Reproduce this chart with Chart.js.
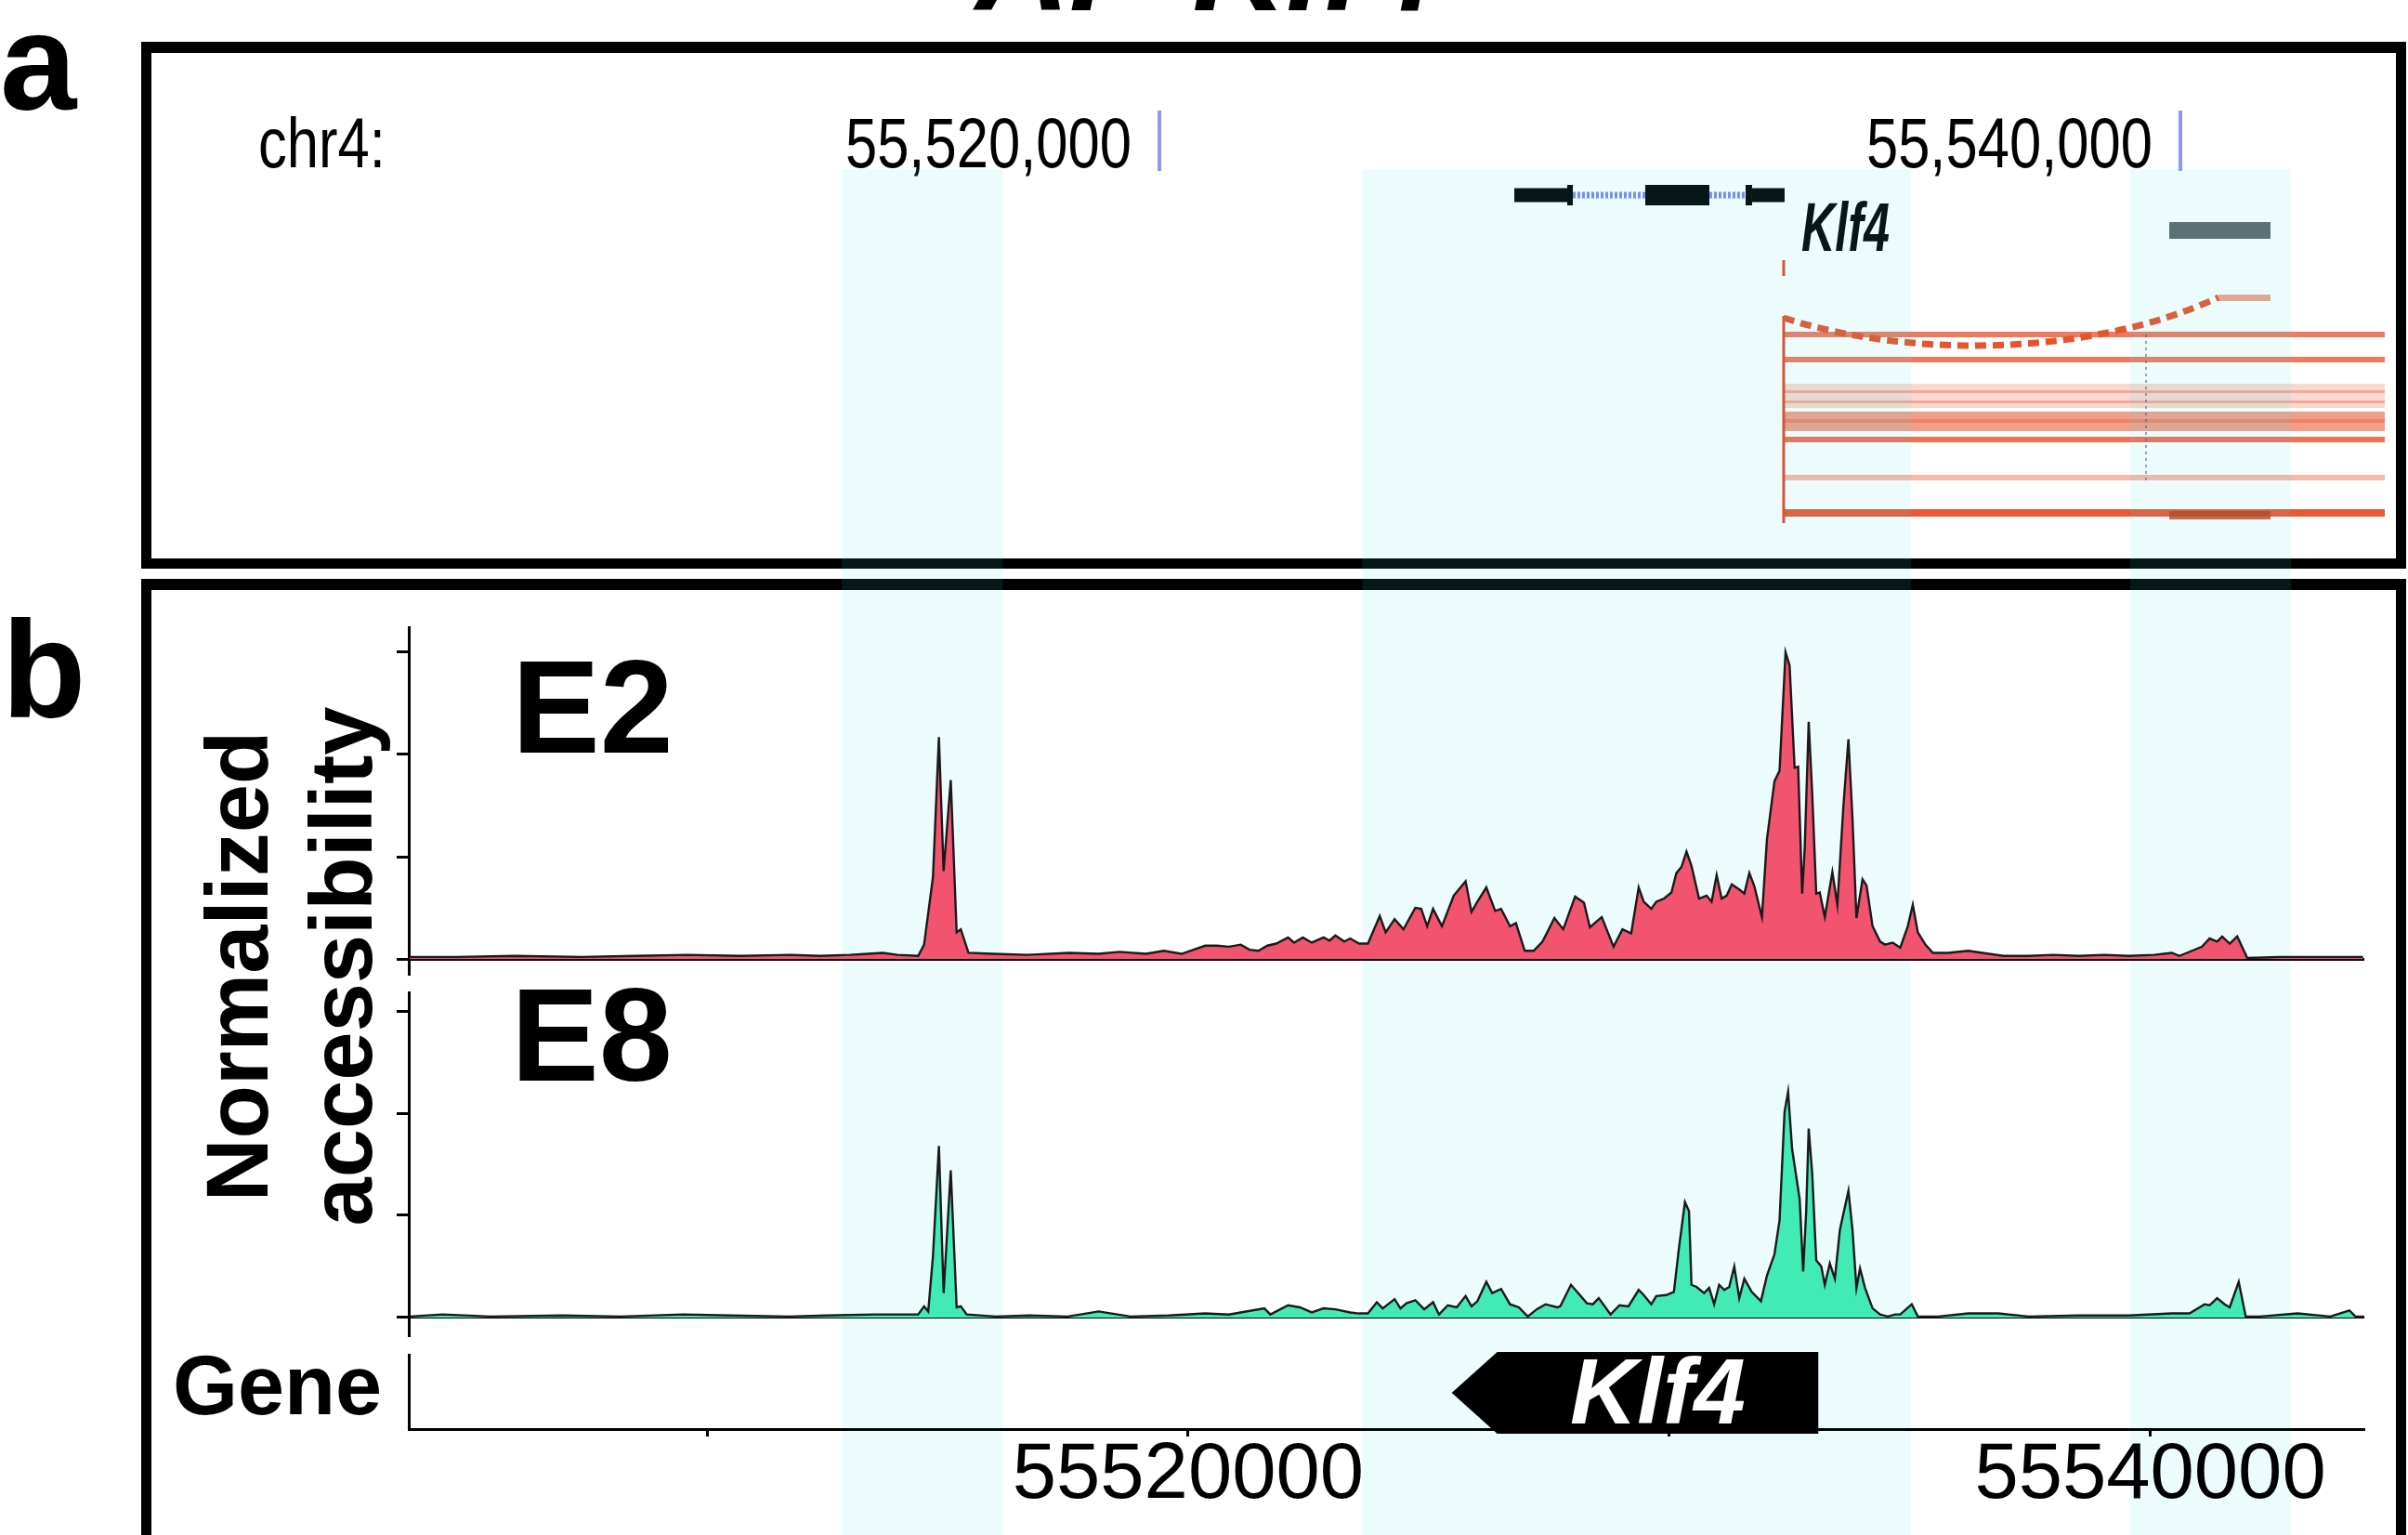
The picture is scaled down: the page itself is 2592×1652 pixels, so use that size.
<!DOCTYPE html>
<html>
<head>
<meta charset="utf-8">
<script src="https://cdn.jsdelivr.net/npm/chart.js@4.4.1/dist/chart.umd.min.js"></script>
<style>
  html, body { margin: 0; padding: 0; background: #fff; width: 2592px; height: 1652px; overflow: hidden; }
  canvas { position: absolute; left: 0; top: 0; }
</style>
</head>
<body>
<canvas id="panelA" width="2592" height="1652"></canvas>
<canvas id="trackE2" width="2592" height="1652"></canvas>
<canvas id="trackE8" width="2592" height="1652"></canvas>
<canvas id="trackGene" width="2592" height="1652"></canvas>
<script>
// ---- accessibility tracks (panel b), positions are bp relative to chr4:55,520,000 ----
const ORIGIN = 55520000;
const X_MIN = 55503800;
const X_MAX = 55544450;
const AXIS_TICKS = [55510000, 55520000, 55530000, 55540000];
const LABELED_TICKS = [55520000, 55540000];
const Y_TICKS = [0, 10, 20, 30];
const TRACK_NAMES = ['E2', 'E8'];

const E2_SIGNAL = [
  [-16180,0.2],[-15200,0.2],[-14000,0.3],[-12600,0.2],[-11500,0.3],[-10400,0.4],[-9300,0.3],[-8256,0.4],
  [-7641,0.3],[-7026,0.4],[-6657,0.5],[-6349,0.6],[-6042,0.4],[-5611,0.3],[-5488,1.4],[-5304,8.0],
  [-5180,21.7],[-5082,8.6],[-4934,17.5],[-4811,2.6],[-4725,2.9],[-4565,0.6],[-4073,0.5],[-3335,0.4],
  [-2474,0.6],[-1859,0.5],[-1428,0.7],[-875,0.5],[-506,0.8],[-137,0.5],[355,1.3],[601,1.3],
  [847,1.2],[1094,1.4],[1278,0.9],[1463,0.8],[1647,1.3],[1832,1.5],[2078,2.1],[2201,1.6],
  [2386,2.1],[2570,1.6],[2816,2.1],[2939,1.8],[3062,2.3],[3247,1.7],[3370,2.0],[3554,1.5],
  [3738,1.5],[3984,4.2],[4107,2.6],[4292,3.9],[4477,2.9],[4723,5.0],[4846,4.9],[4969,3.2],
  [5092,4.9],[5276,3.2],[5522,6.2],[5768,7.6],[5891,4.6],[6014,5.6],[6199,7.0],[6383,4.7],
  [6506,4.9],[6691,3.2],[6814,3.5],[6998,0.8],[7183,0.8],[7368,1.7],[7614,4.0],[7798,2.9],
  [8045,6.1],[8229,5.5],[8352,3.1],[8598,4.1],[8844,1.2],[9029,2.9],[9210,2.5],[9366,7.0],
  [9471,5.6],[9628,4.9],[9732,5.6],[9889,5.9],[10046,6.5],[10150,8.4],[10255,9.0],[10360,10.5],
  [10464,9.1],[10621,5.9],[10778,6.2],[10882,5.6],[10987,8.2],[11091,5.9],[11196,6.2],[11301,7.3],
  [11457,6.8],[11562,6.4],[11666,8.4],[11771,7.1],[11928,4.1],[12032,11.7],[12189,17.4],[12294,18.4],
  [12419,30.0],[12503,28.7],[12607,18.7],[12681,18.8],[12764,6.4],[12817,10.8],[12900,23.2],[12973,16.2],
  [13057,6.4],[13130,6.5],[13235,4.1],[13392,8.5],[13496,5.3],[13622,15.0],[13726,21.5],[13810,13.8],
  [13893,4.0],[14019,7.8],[14102,7.2],[14228,3.2],[14385,1.7],[14489,1.4],[14646,1.6],[14803,1.1],
  [14960,3.2],[15064,5.3],[15169,2.6],[15326,1.4],[15482,0.6],[15796,0.6],[16214,0.8],[16946,0.3],
  [17469,0.3],[17992,0.4],[18515,0.3],[19037,0.4],[19560,0.3],[20083,0.4],[20449,0.6],[20606,0.3],
  [20867,0.8],[21076,1.2],[21233,2.0],[21390,1.7],[21495,2.2],[21651,1.5],[21808,2.2],[22017,0.1],
  [22697,0.2],[23742,0.2],[24422,0.2]
];

const E8_SIGNAL = [
  [-16180,0.1],[-15500,0.3],[-14500,0.1],[-13000,0.2],[-11800,0.1],[-10500,0.3],[-9500,0.2],[-8300,0.1],
  [-7500,0.2],[-6500,0.3],[-5611,0.3],[-5488,1.1],[-5402,0.6],[-5304,6.0],[-5180,16.8],[-5082,2.4],
  [-4934,14.4],[-4811,1.0],[-4725,1.1],[-4602,0.3],[-4000,0.1],[-3300,0.2],[-2500,0.1],[-1859,0.6],
  [-1200,0.1],[-400,0.2],[355,0.4],[847,0.3],[1094,0.5],[1586,0.9],[1709,0.3],[2078,1.2],
  [2324,1.0],[2570,0.5],[2816,0.9],[3062,0.8],[3370,0.5],[3554,0.4],[3738,0.4],[3922,1.5],
  [4045,0.9],[4292,1.8],[4415,0.9],[4538,1.4],[4723,1.7],[4907,0.8],[5092,1.5],[5215,0.3],
  [5399,1.2],[5584,1.0],[5768,2.1],[5891,1.1],[6014,1.6],[6199,3.5],[6321,2.4],[6506,2.8],
  [6691,1.3],[6875,1.0],[7060,0.1],[7245,0.8],[7429,1.3],[7675,1.0],[7737,1.1],[7958,3.2],
  [8106,2.4],[8290,1.4],[8413,1.3],[8536,1.9],[8782,0.3],[8967,1.2],[9152,1.1],[9366,2.7],
  [9471,2.2],[9628,1.3],[9732,2.1],[9941,2.2],[10098,2.5],[10203,6.8],[10328,11.3],[10412,10.4],
  [10464,3.2],[10569,3.0],[10726,2.4],[10830,2.9],[10935,1.3],[11039,3.2],[11144,2.7],[11248,3.0],
  [11353,5.0],[11457,1.9],[11562,3.8],[11719,2.5],[11907,1.6],[12032,4.1],[12189,6.2],[12294,9.5],
  [12398,20.1],[12472,22.1],[12555,16.5],[12712,11.6],[12785,4.5],[12848,10.4],[12900,18.5],[12973,14.1],
  [13057,5.6],[13162,5.0],[13235,3.2],[13339,5.3],[13444,3.8],[13549,8.6],[13726,12.4],[13810,8.6],
  [13893,2.9],[13967,4.8],[14071,2.9],[14228,0.9],[14385,0.3],[14542,0.1],[14698,0.3],[14803,0.3],
  [15043,1.3],[15169,0.1],[15587,0.1],[16214,0.4],[16842,0.4],[17469,0.1],[18515,0.2],[19560,0.2],
  [20449,0.4],[20815,0.4],[21128,1.3],[21233,1.2],[21390,1.9],[21547,1.3],[21651,1.0],[21839,3.5],
  [21985,0.1],[22278,0.1],[23062,0.4],[23742,0.1],[24139,0.7],[24265,0.1],[24422,0.1]
];

const GENE_NAME = 'Klf4';
const GENE_SPAN = [55525480, 55533100];
const HIGHLIGHTS = [[55512800, 55516150], [55523620, 55535030], [55539580, 55542930]];

// ---- genome browser view (panel a) ----
const BROWSER_MIN = 55500255;
const BROWSER_MAX = 55544222;
const BROWSER_TICKS = [55520000, 55540000];
const KLF4_EXONS = [
  [55526952, 55527989, 'utr'], [55527989, 55528098, 'cds'], [55529518, 55530773, 'cds'],
  [55531483, 55531610, 'cds'], [55531610, 55532247, 'utr']
];
const KLF4_INTRONS = [[55528098, 55529518], [55530773, 55531483]];
const CONSERVED_BLOCK = [55539782, 55541765];
const RNA_SPAN = [55532229, 55544003];
const SPLICE_JUNCTION = [55532229, 55540748];
const JUNCTION_EXON = [55540748, 55541765];

const SANS = '"Liberation Sans", Arial, Helvetica, sans-serif';

function drawText(ctx, str, x, y, font, opts = {}) {
  ctx.save();
  ctx.font = font;
  ctx.fillStyle = opts.color || '#000';
  ctx.textAlign = opts.align || 'left';
  ctx.textBaseline = 'alphabetic';
  ctx.translate(x, y);
  if (opts.rotate) ctx.rotate(opts.rotate);
  ctx.scale(opts.sx || 1, 1);
  ctx.fillText(str, 0, 0);
  ctx.restore();
}

// frames, panel letters, axis titles and the browser screenshot tracks
const panelAPlugin = {
  id: 'panelA',
  afterDraw(chart) {
    const ctx = chart.ctx;
    const px = v => chart.scales.x.getPixelForValue(v);

    drawText(ctx, 'AP Klf4', 1050, 11, 'italic bold 140px ' + SANS);
    drawText(ctx, 'a', 0, 118, 'bold 148px ' + SANS);
    drawText(ctx, 'b', 2, 772, 'bold 148px ' + SANS);

    ctx.fillStyle = '#000';
    ctx.fillRect(152, 45, 2438, 12);
    ctx.fillRect(152, 601, 2438, 11);
    ctx.fillRect(152, 45, 11, 567);
    ctx.fillRect(2579, 45, 11, 567);
    ctx.fillRect(152, 623, 2438, 12);
    ctx.fillRect(152, 623, 11, 1029);
    ctx.fillRect(2579, 623, 11, 1029);

    // browser ruler
    drawText(ctx, 'chr4:', 278, 180, '76px ' + SANS, { sx: 0.81 });
    BROWSER_TICKS.forEach(v => {
      const x = px(v);
      ctx.fillStyle = '#8f97f2';
      ctx.fillRect(x - 2, 119, 4, 65);
      drawText(ctx, v.toLocaleString('en-US'), x - 30, 180, '76px ' + SANS, { align: 'right', sx: 0.81 });
    });

    // Klf4 gene model
    const gy = 210;
    KLF4_INTRONS.forEach(([s, e]) => {
      ctx.save();
      ctx.strokeStyle = '#7d86f0';
      ctx.lineWidth = 7;
      ctx.setLineDash([3, 2]);
      ctx.beginPath();
      ctx.moveTo(px(s), gy);
      ctx.lineTo(px(e), gy);
      ctx.stroke();
      ctx.restore();
    });
    ctx.fillStyle = '#000';
    KLF4_EXONS.forEach(([s, e, kind]) => {
      const h = kind === 'utr' ? 15 : 22;
      ctx.fillRect(px(s), gy - h / 2, Math.max(px(e) - px(s), 6), h);
    });
    drawText(ctx, 'Klf4', 1939, 270, 'italic bold 74px ' + SANS, { sx: 0.68 });

    ctx.fillStyle = '#5e6667';
    ctx.fillRect(px(CONSERVED_BLOCK[0]), 239, px(CONSERVED_BLOCK[1]) - px(CONSERVED_BLOCK[0]), 18);

    // RNA-seq coverage rows
    const xs = px(RNA_SPAN[0]), xe = px(RNA_SPAN[1]);
    const rows = [
      [357, 6, 0.75], [384, 6, 0.75], [413, 26, 0.22], [420, 3, 0.35], [431, 3, 0.35],
      [443, 21, 0.55], [451, 4, 0.35], [470, 6, 0.8], [511, 6, 0.4], [548, 8, 0.95]
    ];
    rows.forEach(([y, h, a]) => {
      ctx.fillStyle = `rgba(232,78,40,${a})`;
      ctx.fillRect(xs, y, xe - xs, h);
    });
    ctx.fillStyle = 'rgba(190,60,20,0.8)';
    ctx.fillRect(px(CONSERVED_BLOCK[0]), 550, px(CONSERVED_BLOCK[1]) - px(CONSERVED_BLOCK[0]), 9);
    ctx.fillStyle = '#e8461e';
    ctx.fillRect(xs - 1.5, 340, 3, 223);
    ctx.fillRect(xs - 1.5, 280, 3, 17);

    ctx.save();
    ctx.strokeStyle = 'rgba(80,80,110,0.55)';
    ctx.lineWidth = 2;
    ctx.setLineDash([3, 4]);
    ctx.beginPath();
    ctx.moveTo(px(55539327), 360);
    ctx.lineTo(px(55539327), 520);
    ctx.stroke();
    ctx.restore();

    // splice junction
    const j0 = px(SPLICE_JUNCTION[0]), j1 = px(SPLICE_JUNCTION[1]);
    ctx.save();
    ctx.strokeStyle = '#e8532b';
    ctx.lineWidth = 7;
    ctx.setLineDash([12, 7]);
    ctx.beginPath();
    ctx.moveTo(j0, 342);
    ctx.bezierCurveTo(j0 + (j1 - j0) * 0.28, 385, j0 + (j1 - j0) * 0.7, 385, j1, 320);
    ctx.stroke();
    ctx.restore();
    ctx.fillStyle = 'rgba(232,83,43,0.55)';
    ctx.fillRect(px(JUNCTION_EXON[0]), 317, px(JUNCTION_EXON[1]) - px(JUNCTION_EXON[0]), 7);

    // panel b axis titles
    drawText(ctx, 'Normalized', 288, 1040, 'bold 94px ' + SANS, { align: 'center', rotate: -Math.PI / 2 });
    drawText(ctx, 'accessibility', 400, 1040, 'bold 94px ' + SANS, { align: 'center', rotate: -Math.PI / 2 });
    drawText(ctx, 'Gene', 186, 1522, 'bold 90px ' + SANS);
  }
};

new Chart(document.getElementById('panelA'), {
  type: 'line',
  data: { datasets: [] },
  options: {
    responsive: false, animation: false, devicePixelRatio: 1,
    layout: { padding: { left: 163, right: 13, top: 57, bottom: 1050 } },
    plugins: { legend: { display: false }, tooltip: { enabled: false } },
    scales: {
      x: { type: 'linear', display: false, min: BROWSER_MIN, max: BROWSER_MAX },
      y: { type: 'linear', display: false, min: 0, max: 1 }
    }
  },
  plugins: [panelAPlugin]
});

function trackOptions(top, bottom, yMin, yMax) {
  return {
    responsive: false, animation: false, devicePixelRatio: 1,
    layout: { padding: { left: 420, right: 47, top: top, bottom: 1652 - bottom } },
    plugins: { legend: { display: false }, tooltip: { enabled: false } },
    scales: {
      x: { type: 'linear', display: false, min: X_MIN, max: X_MAX },
      y: {
        type: 'linear', min: yMin, max: yMax,
        afterFit: s => { s.width = 20; },
        afterBuildTicks: s => { s.ticks = Y_TICKS.map(v => ({ value: v })); },
        ticks: { display: false },
        grid: {
          color: c => (c.tick && c.tick.value === 0 ? '#000' : 'rgba(0,0,0,0)'),
          lineWidth: c => (c.tick && c.tick.value === 0 ? 3 : 1),
          drawTicks: true, tickLength: 13, tickWidth: 3, tickColor: '#000'
        },
        border: { display: true, color: '#000', width: 3 }
      }
    }
  };
}

function trackLabel(name, x, y) {
  return { id: 'label' + name, afterDraw(c) { drawText(c.ctx, name, x, y, 'bold 142px ' + SANS); } };
}

// highlighted regions run down the whole figure, under the tracks but over the frames
const highlightPlugin = {
  id: 'highlights',
  beforeDraw(chart) {
    const ctx = chart.ctx;
    const xs = chart.scales.x;
    ctx.save();
    ctx.fillStyle = 'rgba(65,225,235,0.1)';
    HIGHLIGHTS.forEach(([s, e]) => {
      const a = xs.getPixelForValue(s), b = xs.getPixelForValue(e);
      ctx.fillRect(a, 182, b - a, 1652 - 182);
    });
    ctx.restore();
  }
};

function signalDataset(signal, fillColor) {
  return {
    data: signal.map(([p, v]) => ({ x: ORIGIN + p, y: v })),
    borderColor: '#1a1a1a', borderWidth: 2.4, backgroundColor: fillColor,
    fill: 'origin', pointRadius: 0, tension: 0
  };
}

new Chart(document.getElementById('trackE2'), {
  type: 'line',
  data: { datasets: [signalDataset(E2_SIGNAL, '#F2536F')] },
  options: trackOptions(675, 1048, -1.45, 32.45),
  plugins: [highlightPlugin, trackLabel(TRACK_NAMES[0], 551, 810)]
});

new Chart(document.getElementById('trackE8'), {
  type: 'line',
  data: { datasets: [signalDataset(E8_SIGNAL, '#42EBB4')] },
  options: trackOptions(1068, 1437, -1.73, 31.82),
  plugins: [trackLabel(TRACK_NAMES[1], 550, 1163)]
});

// gene track with the genomic axis
const genePlugin = {
  id: 'geneTrack',
  afterDraw(chart) {
    const ctx = chart.ctx;
    const xs = chart.scales.x;
    const tip = xs.getPixelForValue(GENE_SPAN[0]);
    const end = xs.getPixelForValue(GENE_SPAN[1]);
    const body = tip + 49, top = 1455, bottom = 1543, mid = (top + bottom) / 2;
    ctx.fillStyle = '#000';
    ctx.beginPath();
    ctx.moveTo(tip, mid);
    ctx.lineTo(body, top);
    ctx.lineTo(end, top);
    ctx.lineTo(end, bottom);
    ctx.lineTo(body, bottom);
    ctx.closePath();
    ctx.fill();
    drawText(ctx, GENE_NAME, (body + end) / 2, 1532, 'italic bold 100px ' + SANS, { align: 'center', color: '#fff' });
  }
};

new Chart(document.getElementById('trackGene'), {
  type: 'line',
  data: { datasets: [] },
  options: {
    responsive: false, animation: false, devicePixelRatio: 1,
    layout: { padding: { left: 420, right: 47, top: 1458, bottom: 0 } },
    plugins: { legend: { display: false }, tooltip: { enabled: false } },
    scales: {
      x: {
        type: 'linear', min: X_MIN, max: X_MAX,
        afterFit: s => { s.height = 114; },
        afterBuildTicks: s => { s.ticks = AXIS_TICKS.map(v => ({ value: v })); },
        ticks: {
          autoSkip: false, maxRotation: 0, padding: 0, color: '#000',
          font: { family: SANS, size: 85, lineHeight: 1 },
          callback: v => (LABELED_TICKS.includes(v) ? String(v) : '')
        },
        grid: { drawOnChartArea: false, drawTicks: true, tickLength: 8, tickWidth: 3, tickColor: '#000', color: '#000' },
        border: { display: true, color: '#000', width: 3 }
      },
      y: {
        type: 'linear', min: 0, max: 1,
        afterFit: s => { s.width = 20; },
        ticks: { display: false },
        grid: { display: false },
        border: { display: true, color: '#000', width: 3 }
      }
    }
  },
  plugins: [genePlugin]
});
</script>
</body>
</html>
